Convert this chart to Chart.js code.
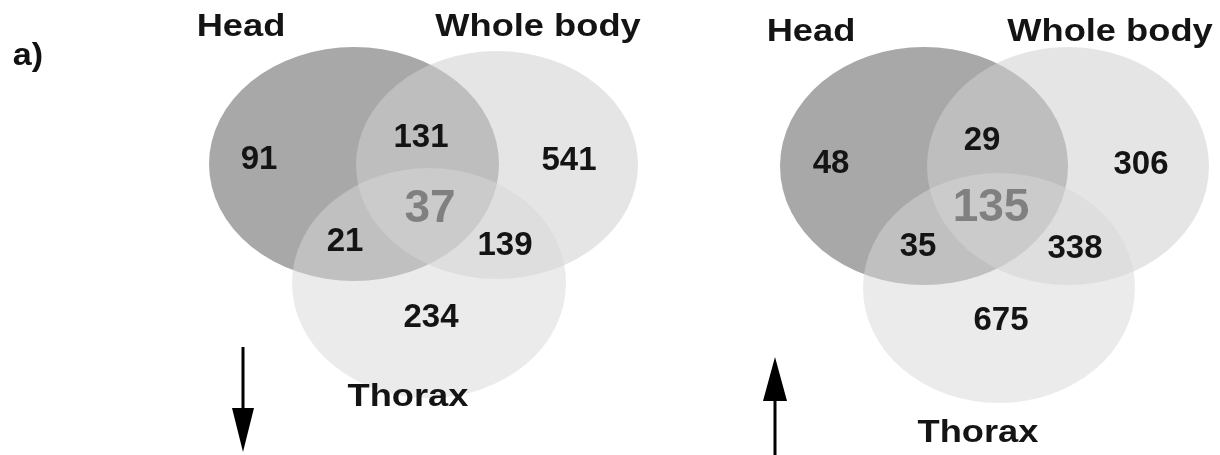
<!DOCTYPE html>
<html><head><meta charset="utf-8">
<script src="https://cdn.jsdelivr.net/npm/chart.js@4/dist/chart.umd.min.js"></script>
<style>html,body{margin:0;padding:0;background:#fff;}#wrap{width:1220px;height:455px;}</style>
</head><body><div id="wrap"><canvas id="c" width="1220" height="455"></canvas></div>
<script>
// ---- data ----
const setNames = ["Head", "Whole body", "Thorax"];
const regionKeys = ["H", "HW", "W", "HT", "HWT", "WT", "T"];
const downCounts = [91, 131, 541, 21, 37, 139, 234];
const upCounts = [48, 29, 306, 35, 135, 338, 675];
const panelLabel = "a)";

// ---- layout (in scale units: x 0..1220, y 0..455) ----
const panels = [
  { counts: downCounts, dir: "down",
    ellipses: [ {x:354,y:164,rx:145,ry:117}, {x:497,y:165,rx:141,ry:114}, {x:429,y:283,rx:137,ry:115} ],
    setLabelPos: [ {x:241,y:26}, {x:538,y:26}, {x:408,y:396} ],
    regionPos: [ {x:259,y:159}, {x:421,y:137}, {x:569,y:160}, {x:345,y:241}, {x:430,y:208}, {x:505,y:245}, {x:431,y:317} ],
    arrow: {x:243, y0:347, y1:452} },
  { counts: upCounts, dir: "up",
    ellipses: [ {x:924,y:166,rx:144,ry:119}, {x:1068,y:166,rx:141,ry:119}, {x:999,y:288,rx:136,ry:115} ],
    setLabelPos: [ {x:811,y:31}, {x:1110,y:31}, {x:978,y:432} ],
    regionPos: [ {x:831,y:163}, {x:982,y:140}, {x:1141,y:164}, {x:918,y:246}, {x:991,y:207}, {x:1075,y:248}, {x:1001,y:320} ],
    arrow: {x:775, y0:357, y1:455} }
];
const fills = ["rgb(168,168,168)", "rgba(208,208,208,0.55)", "rgba(216,216,216,0.5)"];
const FONT = "'Liberation Sans', Arial, sans-serif";

const datasets = [];
panels.forEach((p, pi) => {
  datasets.push({ label: "sets" + pi, role: "sets", panel: pi,
    data: p.ellipses.map(e => ({x: e.x, y: e.y})), pointRadius: 0 });
  datasets.push({ label: "regions" + pi, role: "regions", panel: pi,
    data: p.regionPos.map((r, i) => ({x: r.x, y: r.y, v: p.counts[i], key: regionKeys[i]})), pointRadius: 0 });
  datasets.push({ label: "names" + pi, role: "names", panel: pi,
    data: p.setLabelPos.map((r, i) => ({x: r.x, y: r.y, name: setNames[i]})), pointRadius: 0 });
});

function stretchText(ctx, txt, x, y, sx) {
  ctx.save(); ctx.translate(x, y); ctx.scale(sx, 1); ctx.fillText(txt, 0, 0); ctx.restore();
}

const vennPlugin = {
  id: "venn",
  beforeDatasetsDraw(chart) {
    const ctx = chart.ctx, xs = chart.scales.x, ys = chart.scales.y;
    chart.data.datasets.forEach((ds, di) => {
      if (ds.role !== "sets") return;
      const meta = chart.getDatasetMeta(di);
      const p = panels[ds.panel];
      meta.data.forEach((pt, i) => {
        const e = p.ellipses[i];
        const rx = Math.abs(xs.getPixelForValue(e.x + e.rx) - xs.getPixelForValue(e.x));
        const ry = Math.abs(ys.getPixelForValue(e.y + e.ry) - ys.getPixelForValue(e.y));
        ctx.save(); ctx.beginPath(); ctx.ellipse(pt.x, pt.y, rx, ry, 0, 0, Math.PI * 2);
        ctx.fillStyle = fills[i]; ctx.fill(); ctx.restore();
      });
    });
  },
  afterDatasetsDraw(chart) {
    const ctx = chart.ctx, xs = chart.scales.x, ys = chart.scales.y;
    ctx.save();
    ctx.textAlign = "center"; ctx.textBaseline = "middle";
    chart.data.datasets.forEach((ds, di) => {
      const meta = chart.getDatasetMeta(di);
      if (ds.role === "regions") {
        meta.data.forEach((pt, i) => {
          const d = ds.data[i];
          if (d.key === "HWT") { ctx.font = "bold 46px " + FONT; ctx.fillStyle = "#808080"; }
          else { ctx.font = "bold 33px " + FONT; ctx.fillStyle = "#141414"; }
          ctx.fillText(String(d.v), pt.x, pt.y + 1);
        });
      } else if (ds.role === "names") {
        ctx.font = "bold 31px " + FONT; ctx.fillStyle = "#141414";
        meta.data.forEach((pt, i) => stretchText(ctx, ds.data[i].name, pt.x, pt.y + 1, 1.17));
      }
    });
    // panel label
    ctx.font = "bold 31px " + FONT; ctx.fillStyle = "#111";
    stretchText(ctx, panelLabel, xs.getPixelForValue(28), ys.getPixelForValue(56), 1.1);
    // arrows
    panels.forEach(p => {
      const a = p.arrow;
      const x = xs.getPixelForValue(a.x), y0 = ys.getPixelForValue(a.y0), y1 = ys.getPixelForValue(a.y1);
      const hw = 11, hl = 44;
      ctx.fillStyle = "#000"; ctx.strokeStyle = "#000"; ctx.lineWidth = 3;
      ctx.beginPath();
      if (p.dir === "down") {
        ctx.moveTo(x, y0); ctx.lineTo(x, y1 - hl + 2); ctx.stroke();
        ctx.beginPath(); ctx.moveTo(x - hw, y1 - hl); ctx.lineTo(x + hw, y1 - hl); ctx.lineTo(x, y1); ctx.closePath(); ctx.fill();
      } else {
        ctx.moveTo(x, y1); ctx.lineTo(x, y0 + hl - 2); ctx.stroke();
        ctx.beginPath(); ctx.moveTo(x - hw - 1, y0 + hl); ctx.lineTo(x + hw + 1, y0 + hl); ctx.lineTo(x, y0); ctx.closePath(); ctx.fill();
      }
    });
    ctx.restore();
  }
};

new Chart(document.getElementById("c"), {
  type: "scatter",
  data: { datasets },
  options: {
    responsive: false, animation: false,
    layout: { padding: 0 },
    plugins: { legend: { display: false }, tooltip: { enabled: false } },
    scales: {
      x: { type: "linear", min: 0, max: 1220, display: false },
      y: { type: "linear", min: 0, max: 455, reverse: true, display: false }
    }
  },
  plugins: [vennPlugin]
});
</script></body></html>
